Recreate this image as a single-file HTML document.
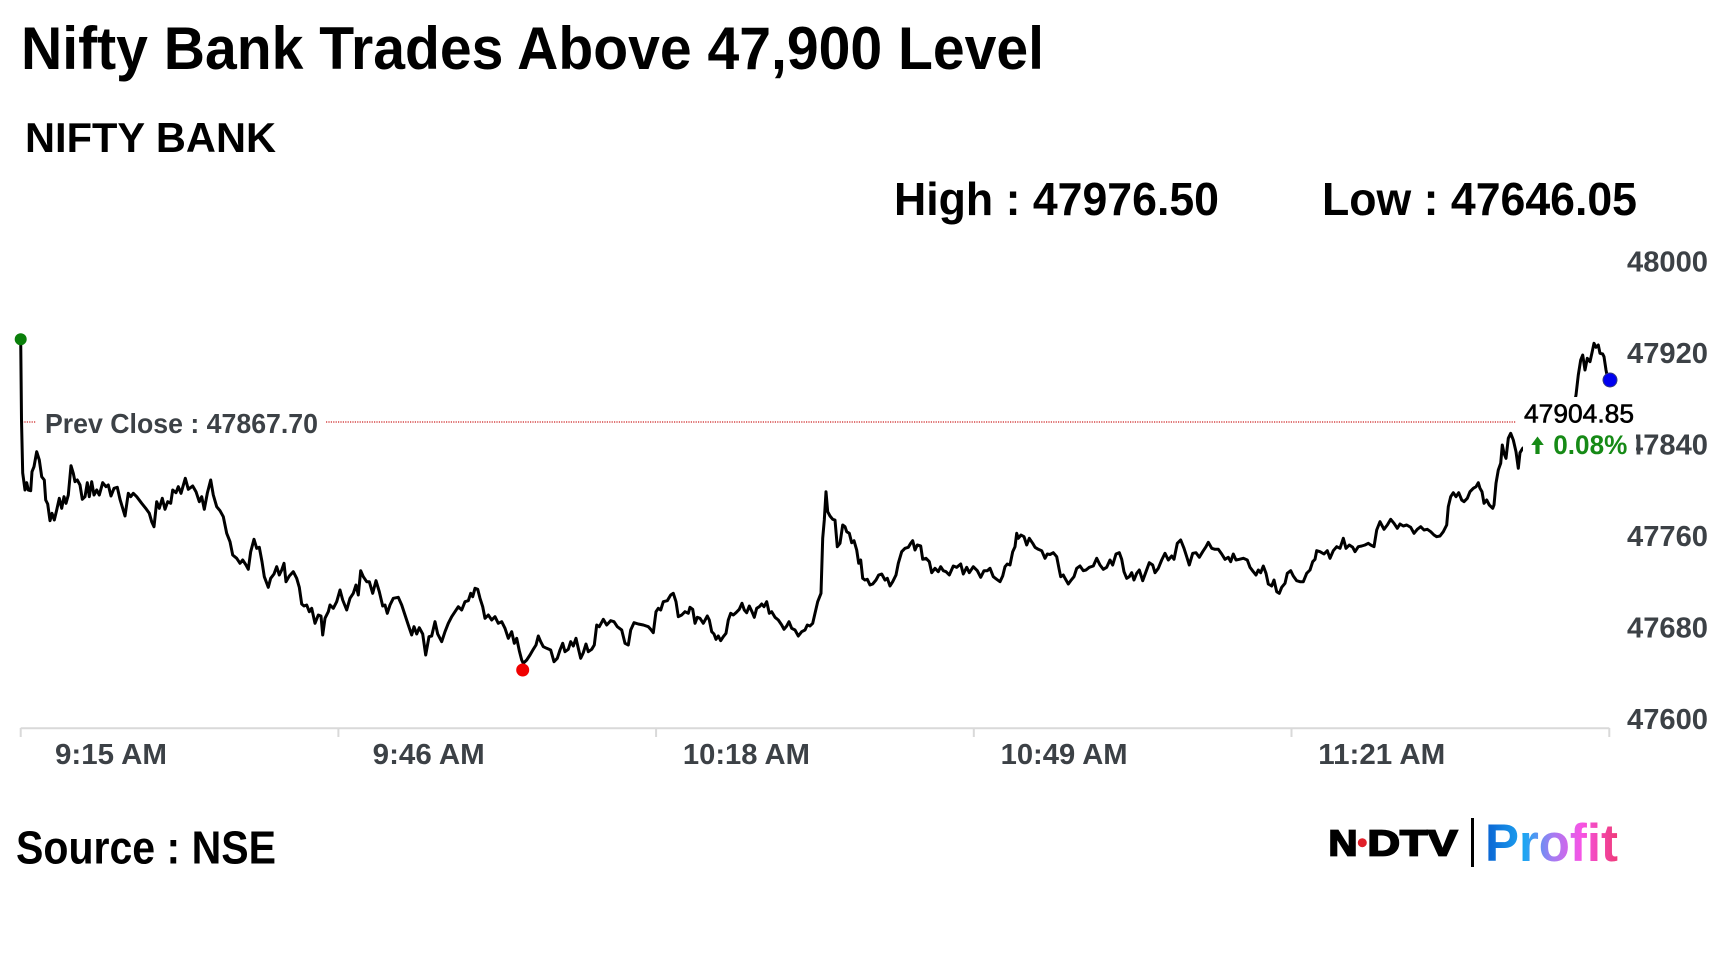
<!DOCTYPE html>
<html>
<head>
<meta charset="utf-8">
<style>
  html, body { margin: 0; padding: 0; background: #fff; }
  svg { display: block; }
  .t { font-family: "Liberation Sans", Arial, sans-serif; font-weight: bold; }
  .ax { font-family: "Liberation Sans", Arial, sans-serif; font-weight: bold; fill: #3c4146; font-size: 29px; }
</style>
</head>
<body>
<svg width="1728" height="972" viewBox="0 0 1728 972" xmlns="http://www.w3.org/2000/svg">
  <defs>
    <linearGradient id="pg" x1="1485" y1="0" x2="1618" y2="0" gradientUnits="userSpaceOnUse">
      <stop offset="0" stop-color="#0a62d2"/>
      <stop offset="0.3" stop-color="#1ea6f2"/>
      <stop offset="0.5" stop-color="#a07ef2"/>
      <stop offset="0.72" stop-color="#f655e6"/>
      <stop offset="1" stop-color="#ef3a78"/>
    </linearGradient>
  </defs>
  <rect x="0" y="0" width="1728" height="972" fill="#fff"/>

  <!-- Titles -->
  <text class="t" x="21" y="69" font-size="60" fill="#000" textLength="1023" lengthAdjust="spacingAndGlyphs">Nifty Bank Trades Above 47,900 Level</text>
  <text class="t" x="25" y="152" font-size="42" fill="#000" textLength="251" lengthAdjust="spacingAndGlyphs">NIFTY BANK</text>
  <text class="t" x="894" y="215" font-size="46" fill="#000" textLength="325" lengthAdjust="spacingAndGlyphs">High : 47976.50</text>
  <text class="t" x="1322" y="215" font-size="46" fill="#000" textLength="315" lengthAdjust="spacingAndGlyphs">Low : 47646.05</text>

  <!-- Y axis labels -->
  <text class="ax" x="1627" y="271.5" textLength="81" lengthAdjust="spacingAndGlyphs">48000</text>
  <text class="ax" x="1627" y="363" textLength="81" lengthAdjust="spacingAndGlyphs">47920</text>
  <text class="ax" x="1627" y="454.5" textLength="81" lengthAdjust="spacingAndGlyphs">47840</text>
  <text class="ax" x="1627" y="546" textLength="81" lengthAdjust="spacingAndGlyphs">47760</text>
  <text class="ax" x="1627" y="637.5" textLength="81" lengthAdjust="spacingAndGlyphs">47680</text>
  <text class="ax" x="1627" y="729" textLength="81" lengthAdjust="spacingAndGlyphs">47600</text>

  <!-- X axis -->
  <line x1="20.7" y1="728.3" x2="1609.3" y2="728.3" stroke="#d9d9d9" stroke-width="2"/>
  <g stroke="#d9d9d9" stroke-width="2">
    <line x1="20.7" y1="728" x2="20.7" y2="737"/>
    <line x1="338.4" y1="728" x2="338.4" y2="737"/>
    <line x1="656.1" y1="728" x2="656.1" y2="737"/>
    <line x1="973.8" y1="728" x2="973.8" y2="737"/>
    <line x1="1291.5" y1="728" x2="1291.5" y2="737"/>
    <line x1="1609.3" y1="728" x2="1609.3" y2="737"/>
  </g>
  <text class="ax" x="111" y="764" text-anchor="middle" textLength="112" lengthAdjust="spacingAndGlyphs">9:15 AM</text>
  <text class="ax" x="428.7" y="764" text-anchor="middle" textLength="112" lengthAdjust="spacingAndGlyphs">9:46 AM</text>
  <text class="ax" x="746.4" y="764" text-anchor="middle" textLength="127" lengthAdjust="spacingAndGlyphs">10:18 AM</text>
  <text class="ax" x="1064.1" y="764" text-anchor="middle" textLength="127" lengthAdjust="spacingAndGlyphs">10:49 AM</text>
  <text class="ax" x="1381.8" y="764" text-anchor="middle" textLength="127" lengthAdjust="spacingAndGlyphs">11:21 AM</text>

  <!-- Prev close line -->
  <line x1="22" y1="422" x2="36" y2="422" stroke="#cc2020" stroke-width="1.2" stroke-dasharray="1.2 1.2"/>
  <line x1="326" y1="422" x2="1516" y2="422" stroke="#cc2020" stroke-width="1.2" stroke-dasharray="1.2 1.2"/>
  <text class="t" x="45" y="433" font-size="28" fill="#3c4146" textLength="273" lengthAdjust="spacingAndGlyphs">Prev Close : 47867.70</text>

  <!-- Series -->
  <polyline fill="none" stroke="#000" stroke-width="3" stroke-linejoin="round" stroke-linecap="round" points="
20.7,339.3 21.5,420 22.7,473 25,490 26.7,482.7 28.3,490 30.7,490.7 32,471.7 34,466.7 36.7,451.7 39.3,460 41.7,476.7 44.3,480 45.7,500 47.7,504 50,520.7 52,513.3 54.3,520 56.7,510 59.3,498.3 61.7,508.3 64,496.7 66,503.3 68.3,495 71,465.7 73.3,473.3 75,481.7 77.3,480 80,485 82.3,499.3 85,496.7 87.3,482.7 89.3,496.7 91.7,481.7 94,495 96.7,490 99.3,495 102.7,482.7 106,486.7 108.3,485 111,496 114,488.3 117.3,487.3 120,499.3 125,516 128.3,493.3 130.7,496.7 133.3,493.3 136.7,496.7 141.7,503.3 145.7,508.3 149.3,513.3 151.7,521.7 154,526.7 156.7,501.7 159.3,508.3 162.3,498.3 165,509.3 167.7,501.7 170.7,503.3 172.7,490 176,492.7 178.3,486.7 181,493.3 185.3,478.3 188.3,489.3 192.7,486 196,491.7 199.3,501.7 201.7,496.7 204.3,509.3 207.3,493.3 210.7,480 213.3,495 216.7,506.7 220,510.7 223.3,516.7 226.7,533.3 230,541.7 232.7,555 236.7,558.3 240,563.3 242.7,560 246,565 248.3,569.3 250.7,551.7 254,539.3 256.7,548.3 259.3,547.3 262,561.7 264.3,576.7 268.3,587.3 270.7,578.3 274,574 276.7,566.7 279.3,575 281.7,570 284,563.3 286,581.7 289.3,576 293.3,571.7 296.7,578.3 299.3,587.3 301.7,604 304,606 306.7,605 309.3,611.7 311.7,608.3 315,623.3 318.3,615 321,616 322.7,635 325,618.3 328.3,611.7
330,605 333.3,608.3 336.7,601.7 340,590 342.7,600 346.7,610 350,598.3 353.3,593.3 356,585 358.3,595 360.7,570.7 363.3,576.7 366.7,581.7 369.3,581.7 372.7,593.3 376,580.7 379.3,591.7 382.7,606 385,605 387.3,613.3 390,605 393.3,598.3 398.3,597.3 401.7,605 405,615 408.3,625 411.7,635 414,626.7 416.7,634 419.3,627.7 422.7,634 425.7,655 429,636.7 431.7,636 435,621.7 437.7,634 441.7,641.7 445,631.7 448.3,623.3 451.7,616.7 455,611.7 458.3,606.7 461.7,610 465,601.7 468.3,600.7 470.7,593.3 472.7,596.7 475,588.3 477.7,589.3 480,598.3 482.7,606.7 485,618.3 488.3,615 491.7,620 495,616.7 498.3,623.3 501.7,621.7 505,628.3 508.3,638.3 511.7,631.7 514.3,643.3 516.7,638.3 519.3,650.7 521.7,660 523.3,663.3 526.7,660 530,655 533.3,649.3 536,645 538.3,636 540.7,641.7 543.3,646.7 546.7,648.3 550.7,650 554,661.7 557.3,658.3 560,650 562.7,643.3 565,651.7 568.3,649.3 570.7,641.7 573.3,646 576,638.3 578.3,648.3 580.7,658.3 583.3,652.7 586,644 588.3,651.7 591.7,649.3 594.3,645 596.7,625 599.3,626.7 603.3,619.3 606.7,625 610.7,620.7 614,621.7 617.3,626.7 621.7,630 625,643.3 628.3,645 630.7,630 634,622.7 638.3,624 643.3,625 648.3,626.7 650.7,629.3 653.3,632.7 656,611.7 658.3,608.3 660.7,610 663.3,601.7 667.3,600.7 670.7,595 673.3,593.3 676,601.7 678.3,616.7 681.7,615 685,611.7 688.3,613.3
690,607.3 692.7,609.3 695,623.3 697.3,617.3 700,618.3 703.3,623.3 707.3,616 709.3,620 711.7,631.7 714,634 716,639.3 718.3,636 720.7,640.7 723.3,636.7 726,633.3 728.3,620 730.7,613.3 733.3,615 736,612.7 739.3,609.3 742,603.3 744.3,610 746.7,612.7 749.3,606 752,611.7 754.3,617.3 756.7,608.3 759.3,606.7 761.7,604 764,606.7 766.7,601.7 769.3,613.3 771.7,611.7 775,617.3 778.3,620 781.7,625 784,629.3 786.7,626 789,621.7 791.7,628.3 795,630 798.3,636 801.7,631.7 805,630 807.3,625 810,626 812.7,623.3 815,613.3 817.7,601.7 821,593.3 822.7,538.3 824.3,520 826,491.7 827.7,511.7 830,516 832.7,519.3 835,520 837.3,546.7 840,543.3 842.7,525 845,526.7 846.7,531.7 849.3,533.3 851.7,542.7 854,540.7 856.7,550 858.7,563.3 860.7,560 862.7,578.3 865,580 867.3,579.3 870,585 872.7,584 876,580 878.7,575 881.7,574 885,580 887.3,578.3 890,586 892.7,581.7 896,575 898.3,563.3 901.7,551.7 905,548.3 908.3,547.3 910.7,543.3 912.7,540.7 915,550 917.3,545 920.7,546 922.7,559.3 926,558.3 929.3,561.7 931.7,572.7 935,568.3 938.3,571.7 940.7,566.7 943.3,570.7 946,571.7 949.3,575 953.3,566 956.7,567.3 960.7,564 963.3,574 966.7,567.3 969.3,572.7 973.3,566.7 977.3,570.7 980.7,577.3 984,570.7 987.3,570.7 990,568.3 993.3,576.7 996.7,579.3 1000,581.7 1002.7,576 1005,566.7 1007.3,564 1010,565 1012.7,551.7 1015,546.7 1016.7,533.3 1018.3,538.3 1021,535 1024,536.7 1026.7,545 1029.3,538.3 1032.7,543.3 1035,547.3 1038.3,549.3 1041.7,550.7 1045,558.3 1047.3,554
1050,554.5 1053.3,552.7 1056.7,556.7 1059.3,570 1060.7,576.7 1063.3,575 1065,578.3 1068.3,584 1070.7,580.7 1074,576.7 1076.7,568.3 1080,566 1083.3,570.7 1086,570 1089.3,567.3 1093.3,566 1096.7,558.3 1100,565 1103.3,569.3 1106.7,567.3 1110,560 1112.7,565 1116,554 1119.3,552.7 1121.7,559.3 1124,571.7 1126.7,578.3 1129.3,576.7 1131.7,572.7 1134,580 1136.7,573.3 1139.3,570 1142.7,580.7 1146,571.7 1149.3,562.7 1152.7,565 1155,572.7 1158.3,568.3 1161.7,560 1165,553.3 1168.3,560 1171.7,556 1174,559.3 1177.3,543.3 1180.7,540 1184,548.3 1186.7,556.7 1189.3,565 1192.7,553.3 1196,552.7 1199.3,557.3 1202.7,551.7 1206,546.7 1208.3,542.3 1211.7,548.3 1215,549.3 1218.3,549.3 1221.7,554 1225,559.3 1228.3,557.3 1230.7,561.7 1233.3,554 1236,560 1239.3,559.3 1243.3,558.3 1247.3,560 1250,567.3 1253.3,571.7 1256,575 1258.3,570 1260.7,572.7 1263.3,566 1266,573.3 1268.3,584 1271.7,586 1274,580 1276.7,591.7 1279.3,593.3 1281.7,587.3 1285,583.3 1287.3,573.3 1290.7,570.7 1293.3,576 1296.7,580.7
1300,581.7 1303.3,581.7 1306.7,573.3 1310,570 1312.7,561.7 1315,559.3 1316.7,550.7 1320,551.7 1324,554 1327.3,550.7 1330,558.3 1333.3,550.7 1336.7,546.7 1340,548.3 1343.3,538.3 1346,548.3 1349.3,545 1352.7,547.3 1355,551.7 1358.3,546.7 1361.7,546 1365,545 1368.3,543.3 1370.7,545 1374,546.7 1376.7,530 1380,521.7 1384,529.3 1387.3,525 1390.7,519.3 1394,523.3 1397.3,528.3 1400,524 1403.3,526 1406.7,525 1410.7,527.3 1414,533.3 1417.3,529.3 1420.7,526.7 1424,530 1427.3,529.3 1430.7,531.7 1434,535 1436.7,536.7 1440,536 1443.3,531.7 1446.7,525 1448.3,506.7 1450.7,496.7 1453.3,492.7 1456,496.7 1458.7,492.7 1461.7,500 1464,501.7 1467.3,498.3 1470,491.7 1473.3,488.3 1476,486.7 1478.3,482.7 1480,488.3 1482,491.7 1484,503.3 1486.7,500 1489.3,505 1492.7,508.3 1494,505 1496,483.3 1498.3,470 1500.7,463.3 1502.3,445 1504,453.3 1506,458.3 1508.3,438.3 1510.7,433.3 1513.3,440 1516,451.7 1518.3,468.3 1520,452.7 1522.7,448.3 1535,440 1550,430 1565,420 1574,405 1576,395 1578.3,375 1580.7,360 1582.7,355 1585,370 1587.3,358.3 1590,361.7 1592,352.7 1594,343.3 1596,347.3 1598.3,345 1600,353.3 1602.7,354 1604,356.7 1606,370 1607.3,376.7 1610,380"/>

  <!-- Value label box -->
  <rect x="1523" y="397" width="113" height="66" fill="#fff"/>
  <text x="1524" y="422.7" font-family="Liberation Sans, Arial, sans-serif" font-size="26" fill="#000" stroke="#000" stroke-width="0.6" textLength="110" lengthAdjust="spacingAndGlyphs">47904.85</text>
  <polygon points="1537.5,436.5 1543.8,445 1539.6,445 1539.6,454 1535.4,454 1535.4,445 1531.2,445" fill="#168a16"/>
  <text class="t" x="1553.3" y="454" font-size="27" fill="#168a16" textLength="74" lengthAdjust="spacingAndGlyphs">0.08%</text>

  <!-- Markers -->
  <circle cx="20.7" cy="339.3" r="6" fill="#0a7f0a"/>
  <circle cx="522.7" cy="670" r="6.5" fill="#f00000"/>
  <circle cx="1610" cy="380" r="7" fill="#0000f0" stroke="#333a80" stroke-width="1"/>

  <!-- Footer -->
  <text class="t" x="16" y="863.5" font-size="46" fill="#000" textLength="260" lengthAdjust="spacingAndGlyphs">Source : NSE</text>

  <!-- Logo -->
  <text x="1328.5" y="855.5" font-family="Liberation Sans, Arial, sans-serif" font-weight="bold" font-size="36" fill="#000" stroke="#000" stroke-width="1.8" textLength="29" lengthAdjust="spacingAndGlyphs">N</text>
  <circle cx="1362.3" cy="842.7" r="4.5" fill="#e0202a"/>
  <text x="1367.5" y="855.5" font-family="Liberation Sans, Arial, sans-serif" font-weight="bold" font-size="36" fill="#000" stroke="#000" stroke-width="1.8" textLength="90" lengthAdjust="spacingAndGlyphs">DTV</text>
  <rect x="1471" y="818" width="3" height="49" fill="#000"/>
  <text x="1485" y="861" font-family="Liberation Sans, Arial, sans-serif" font-weight="bold" font-size="53" fill="url(#pg)" textLength="133" lengthAdjust="spacingAndGlyphs">Profit</text>
</svg>
</body>
</html>
